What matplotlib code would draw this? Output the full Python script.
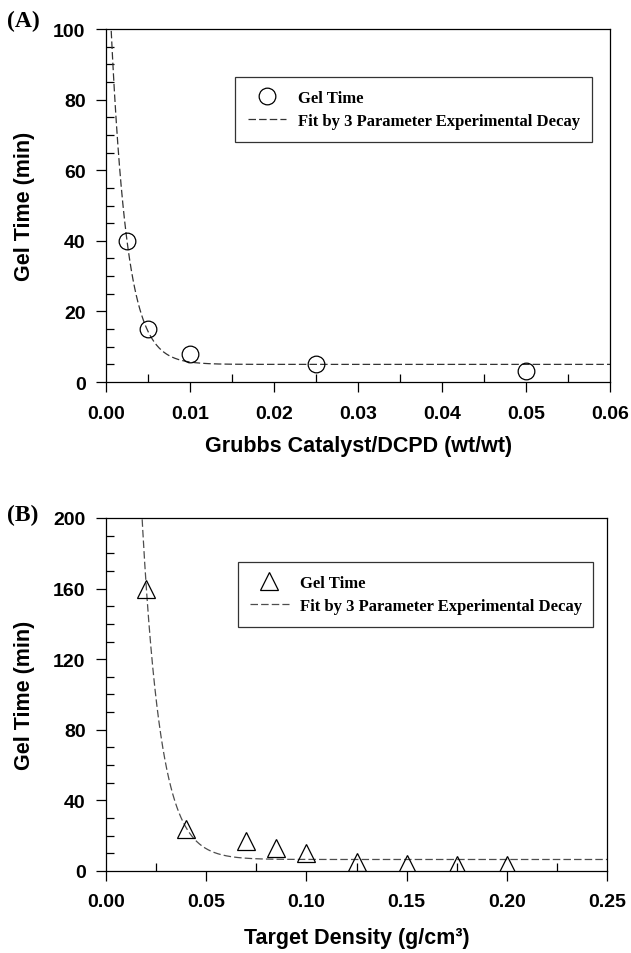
import numpy as np
import matplotlib
matplotlib.use('Agg')
import matplotlib.pyplot as plt
from matplotlib.ticker import MultipleLocator, FormatStrFormatter

# Panel A: gel time vs catalyst loading
catalyst = [0.0025, 0.005, 0.01, 0.025, 0.05]
geltime_a = [40, 15, 8, 5, 3]
# 3 parameter decay fit y = y0 + a*exp(-b*x)
fit_a = {'y0': 5.0, 'a': 131.0, 'b': 528.0}

# Panel B: gel time vs target density
density = [0.02, 0.04, 0.07, 0.085, 0.10, 0.125, 0.15, 0.175, 0.20]
geltime_b = [160, 24, 17, 13, 10, 5, 3.8, 3.2, 3.2]
fit_b = {'y0': 6.5, 'a': 1352.0, 'b': 108.0}

sans = 'Liberation Sans'
serif = 'Liberation Serif'


def decay(x, p):
    return p['y0'] + p['a'] * np.exp(-p['b'] * x)


def style_axes(ax, xmaj, xmin, ymaj, ymin, xfmt, yfmt):
    ax.xaxis.set_major_locator(MultipleLocator(xmaj))
    ax.xaxis.set_minor_locator(MultipleLocator(xmin))
    ax.yaxis.set_major_locator(MultipleLocator(ymaj))
    ax.yaxis.set_minor_locator(MultipleLocator(ymin))
    ax.xaxis.set_major_formatter(FormatStrFormatter(xfmt))
    ax.yaxis.set_major_formatter(FormatStrFormatter(yfmt))
    ax.tick_params(which='major', direction='out', length=7.2, width=0.9, pad=7.5)
    ax.tick_params(which='minor', direction='in', length=5.5, width=0.9)
    ax.tick_params(axis='x', which='major', pad=9)
    for lab in ax.get_xticklabels() + ax.get_yticklabels():
        lab.set_fontfamily(sans)
        lab.set_fontweight('bold')
        lab.set_fontsize(14)
    for sp in ax.spines.values():
        sp.set_linewidth(0.9)


def add_legend(ax, anchor):
    leg = ax.legend(loc='upper left', bbox_to_anchor=anchor, mode='expand',
                    frameon=True, fancybox=False, edgecolor='black',
                    prop={'family': serif, 'weight': 'bold', 'size': 12},
                    handlelength=2.3, handletextpad=0.7, borderpad=0.75,
                    labelspacing=0.45, borderaxespad=0)
    leg.get_frame().set_linewidth(0.9)
    return leg


fig = plt.figure(figsize=(6.31, 9.54), dpi=100)

# ---- (A) ----
ax1 = fig.add_axes([0.168, 0.5985, 0.799, 0.370])
xa = np.linspace(0, 0.06, 600)
ax1.plot(catalyst, geltime_a, 'o', ms=12, mfc='none', mec='black', mew=0.9,
         label='Gel Time', zorder=3)
ax1.plot(xa, decay(xa, fit_a), color='0.2', lw=0.9, dashes=(6, 2.5),
         label='Fit by 3 Parameter Experimental Decay')
ax1.set_xlim(0, 0.06)
ax1.set_ylim(0, 100)
style_axes(ax1, 0.01, 0.005, 20, 5, '%.2f', '%d')
ax1.set_xlabel('Grubbs Catalyst/DCPD (wt/wt)', fontfamily=sans,
               fontweight='bold', fontsize=15.5, labelpad=10)
ax1.set_ylabel('Gel Time (min)', fontfamily=sans, fontweight='bold',
               fontsize=15.5, labelpad=13)
add_legend(ax1, (0.256, 0.864, 0.708, 0.0))

# ---- (B) ----
ax2 = fig.add_axes([0.168, 0.086, 0.794, 0.370])
xb = np.linspace(0, 0.25, 1500)
ax2.plot(density, geltime_b, '^', ms=12.5, mfc='none', mec='black', mew=0.9,
         label='Gel Time', zorder=3)
ax2.plot(xb, decay(xb, fit_b), color='0.3', lw=0.9, dashes=(6, 2.5),
         label='Fit by 3 Parameter Experimental Decay')
ax2.set_xlim(0, 0.25)
ax2.set_ylim(0, 200)
style_axes(ax2, 0.05, 0.025, 40, 10, '%.2f', '%d')
ax2.set_xlabel('Target Density (g/cm³)', fontfamily=sans,
               fontweight='bold', fontsize=15.5, labelpad=12)
ax2.set_ylabel('Gel Time (min)', fontfamily=sans, fontweight='bold',
               fontsize=15.5, labelpad=13)
add_legend(ax2, (0.263, 0.875, 0.709, 0.0))

# panel letters
fig.text(0.011, 0.977, '(A)', fontfamily=serif, fontweight='bold',
         fontsize=17, va='center')
fig.text(0.011, 0.460, '(B)', fontfamily=serif, fontweight='bold',
         fontsize=17, va='center')

fig.savefig('out.png', dpi=100)
